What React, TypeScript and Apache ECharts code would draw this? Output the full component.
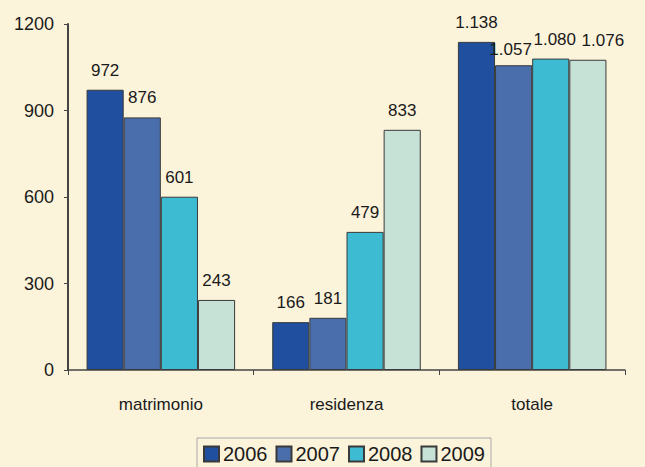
import React, { useEffect, useRef } from "react";
import * as echarts from "echarts";

const categories = ["matrimonio", "residenza", "totale"];
const years = ["2006", "2007", "2008", "2009"];
const values2006 = [972, 166, 1138];
const values2007 = [876, 181, 1057];
const values2008 = [601, 479, 1080];
const values2009 = [243, 833, 1076];
const colors = ["#1f4f9e", "#4a6eab", "#3dbbd2", "#c6e2d6"];
const yMin = 0;
const yMax = 1200;

const fmt = (v: number) => {
  const s = String(v);
  return s.length > 3 ? s.slice(0, s.length - 3) + "." + s.slice(s.length - 3) : s;
};

// per-bar label nudges (style only), keyed by series index then category index
const labelOffsets: Record<number, Record<number, number[]>> = {
  1: { 2: [-3, 4] },
  2: { 2: [4, 0] },
  3: { 2: [15, 0] },
};

export default function App() {
  const ref = useRef<HTMLDivElement>(null);
  useEffect(() => {
    const chart = echarts.init(ref.current!, null, { renderer: "svg" });
    const all = [values2006, values2007, values2008, values2009];
    chart.setOption({
      animation: false,
      backgroundColor: "#fbf3da",
      textStyle: { fontFamily: "Liberation Sans" },
      grid: { left: 68, right: 20, top: 24, bottom: 97 },
      legend: {
        bottom: -3,
        left: 197,
        itemWidth: 15,
        itemHeight: 15,
        itemGap: 8,
        borderColor: "#a8a8a8",
        borderWidth: 1,
        padding: [6, 6, 6, 6],
        icon: "rect",
        textStyle: { fontSize: 20, color: "#1a1a1a", fontFamily: "Liberation Sans", padding: [0, 0, 0, -1] },
        data: years,
      },
      xAxis: {
        type: "category",
        data: categories,
        axisLine: { lineStyle: { color: "#444", width: 1.5 } },
        axisTick: { show: true, length: 5, inside: false, lineStyle: { color: "#444" } },
        axisLabel: { color: "#1a1a1a", fontSize: 17, margin: 26 },
      },
      yAxis: {
        type: "value",
        min: yMin,
        max: yMax,
        interval: 300,
        splitLine: { show: false },
        axisLine: { show: true, onZero: false, lineStyle: { color: "#444", width: 2 } },
        axisTick: { show: true, length: 4, lineStyle: { color: "#444" } },
        axisLabel: { color: "#1a1a1a", fontSize: 18, margin: 14, formatter: (v: number) => String(v) },
      },
      series: years.map((y, i) => ({
        name: y,
        type: "bar",
        data: all[i].map((v, j) => {
          const off = labelOffsets[i] && labelOffsets[i][j];
          return off ? { value: v, label: { offset: off } } : v;
        }),
        barGap: "0%",
        barCategoryGap: "20%",
        itemStyle: { color: colors[i], borderColor: "#3a3a3a", borderWidth: 1 },
        label: {
          show: true,
          position: "top",
          distance: 11,
          color: "#1a1a1a",
          fontSize: 17,
          formatter: (p: any) => fmt(p.value),
        },
      })),
    });
    return () => chart.dispose();
  }, []);
  return <div ref={ref} style={{ width: 645, height: 467, position: "absolute", left: 0, top: 0 }} />;
}
